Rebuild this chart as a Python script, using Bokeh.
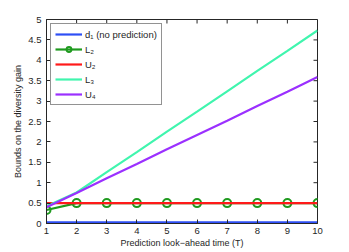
import math
from bokeh.plotting import figure
from bokeh.models import Range1d, FixedTicker, Legend
from bokeh.embed import file_html
from bokeh.resources import INLINE

# ---- data ----
T = [1, 2, 3, 4, 5, 6, 7, 8, 9, 10]
d1 = [0.03, 0.03, 0.03, 0.03, 0.03, 0.03, 0.03, 0.03, 0.03, 0.03]
L2 = [0.33, 0.5, 0.5, 0.5, 0.5, 0.5, 0.5, 0.5, 0.5, 0.5]
U2 = [0.5, 0.5, 0.5, 0.5, 0.5, 0.5, 0.5, 0.5, 0.5, 0.5]
L3 = [0.42, 0.76, 1.26, 1.75, 2.25, 2.74, 3.24, 3.74, 4.23, 4.73]
U4 = [0.40, 0.75, 1.11, 1.46, 1.82, 2.17, 2.52, 2.88, 3.23, 3.59]

x_ticks = [1, 2, 3, 4, 5, 6, 7, 8, 9, 10]
y_ticks = [0, 0.5, 1, 1.5, 2, 2.5, 3, 3.5, 4, 4.5, 5]
y_tick_labels = ["0", "0.5", "1", "1.5", "2", "2.5", "3", "3.5", "4", "4.5", "5"]

labels = ["d\u2081 (no prediction)", "L\u2082", "U\u2082", "L\u2083", "U\u2084"]
x_label = "Prediction look\u2212ahead time (T)"
y_label = "Bounds on the diversity gain"

FONT = "Liberation Sans"
AX = "#262626"
X0, X1, Y0, Y1 = 1, 10, 0, 5

p = figure(width=349, height=252, output_backend="svg", toolbar_location=None,
           x_range=Range1d(X0, X1), y_range=Range1d(Y0, Y1),
           min_border_left=46, min_border_right=32, min_border_top=19, min_border_bottom=29)
p.xgrid.visible = False
p.ygrid.visible = False
p.outline_line_color = AX
p.outline_line_width = 1

for ax in (p.xaxis[0], p.yaxis[0]):
    ax.axis_line_color = AX
    ax.major_tick_line_color = AX
    ax.minor_tick_line_color = None
    ax.major_tick_in = 4
    ax.major_tick_out = 0
    ax.major_label_text_font = FONT
    ax.major_label_text_color = AX
    ax.major_label_text_font_size = "9.5px"
    ax.axis_label_text_font = FONT
    ax.axis_label_text_font_style = "normal"
    ax.axis_label_text_color = AX
    ax.axis_label_text_font_size = "9px"

p.xaxis.ticker = FixedTicker(ticks=x_ticks)
p.yaxis.ticker = FixedTicker(ticks=y_ticks)
p.yaxis.major_label_overrides = {t: s for t, s in zip(y_ticks, y_tick_labels)}
p.xaxis.axis_label = x_label
p.yaxis.axis_label = y_label
p.xaxis.major_label_standoff = 4
p.xaxis.axis_label_standoff = 1
p.yaxis.major_label_standoff = 5
p.yaxis.axis_label_standoff = 2

# box ticks on top and right edges (inward)
p.ray(x=x_ticks, y=[Y1] * len(x_ticks), length=4, length_units="screen",
      angle=-math.pi / 2, line_color=AX, line_width=1)
p.ray(x=[X1] * len(y_ticks), y=y_ticks, length=4, length_units="screen",
      angle=math.pi, line_color=AX, line_width=1)

r1 = p.line(T, d1, line_color="#2e4ff5", line_width=2.2)
r2a = p.line(T, L2, line_color="#1f9a1f", line_width=2.2)
r2b = p.scatter(T, L2, marker="circle", size=8, fill_color=None,
                line_color="#1f9a1f", line_width=2)
r3 = p.line(T, U2, line_color="#ff1a1a", line_width=2.2)
r4 = p.line(T, L3, line_color="#40f5ae", line_width=2.2)
r5 = p.line(T, U4, line_color="#9b30ff", line_width=2.2)

legend = Legend(items=[(labels[0], [r1]), (labels[1], [r2a, r2b]), (labels[2], [r3]),
                       (labels[3], [r4]), (labels[4], [r5])],
                location="top_left")
legend.label_text_font = FONT
legend.label_text_font_size = "9.5px"
legend.label_text_color = AX
legend.label_height = 12
legend.glyph_height = 12
legend.glyph_width = 27
legend.spacing = 3
legend.padding = 4
legend.margin = 4
legend.label_standoff = 3
legend.border_line_color = AX
legend.border_line_width = 1
legend.background_fill_alpha = 1
p.add_layout(legend)

open("out.html", "w").write(file_html(p, INLINE))
